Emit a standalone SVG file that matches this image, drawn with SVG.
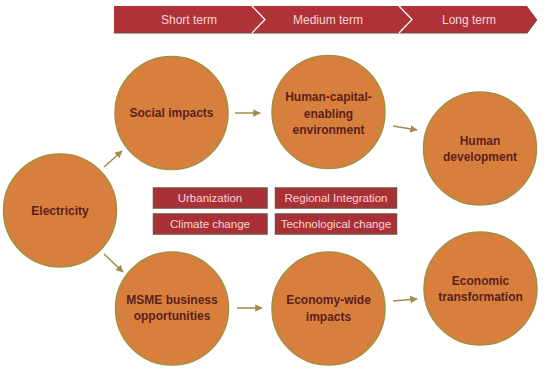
<svg xmlns="http://www.w3.org/2000/svg" width="550" height="370" viewBox="0 0 550 370">
<style>
.node circle{fill:#D97F3E;stroke:#A0903F;stroke-width:1.5}
.node text{font-family:"Liberation Sans",Arial,sans-serif;font-weight:bold;font-size:12px;fill:#5A1F1C;text-anchor:middle}
.box rect{fill:#AA3038;stroke:#7A4A3A;stroke-width:1.5}
.box text{font-family:"Liberation Sans",Arial,sans-serif;font-size:11.5px;fill:#F8D6D4;text-anchor:middle}
.band text{font-family:"Liberation Sans",Arial,sans-serif;font-size:12px;fill:#F8D6D4;text-anchor:middle}
.conn line{stroke:#A38B4B;stroke-width:1.5;marker-end:url(#ah)}
</style>
<defs>
<marker id="ah" viewBox="0 0 10 10" refX="9" refY="5" markerWidth="5" markerHeight="5" orient="auto" markerUnits="strokeWidth">
<path d="M0,0 L10,5 L0,10 z" fill="#A38B4B"/>
</marker>
</defs>
<rect width="550" height="370" fill="#FFFFFF"/>
<g id="timeline" class="band">
<polygon points="114,6 527,6 537,19.5 527,33 114,33" fill="#AE3238"/>
<polyline points="114,33 527,33 537,19.5" fill="none" stroke="#6E4A3A" stroke-width="1.2"/>
<polyline points="252,6 265,19.5 252,33" fill="none" stroke="#FFFFFF" stroke-width="1.3"/>
<polyline points="399,6 412,19.5 399,33" fill="none" stroke="#FFFFFF" stroke-width="1.3"/>
<text x="189" y="24">Short term</text>
<text x="328" y="24">Medium term</text>
<text x="469" y="24">Long term</text>
</g>
<g id="connectors" class="conn">
<line x1="104" y1="167" x2="122" y2="151"/>
<line x1="104" y1="254" x2="123" y2="272"/>
<line x1="235" y1="113" x2="260" y2="113"/>
<line x1="393" y1="126" x2="417" y2="130"/>
<line x1="237" y1="308" x2="262" y2="308"/>
<line x1="393" y1="301" x2="417" y2="299"/>
</g>
<g id="electricity" class="node"><circle cx="60" cy="210.5" r="56.5"/><text x="60" y="215">Electricity</text></g>
<g id="social" class="node"><circle cx="171.5" cy="113" r="56.5"/><text x="171.5" y="117">Social impacts</text></g>
<g id="humancapital" class="node"><circle cx="328.5" cy="112" r="56.5"/><text x="328.5" y="101">Human-capital-</text><text x="328.5" y="117.5">enabling</text><text x="328.5" y="134">environment</text></g>
<g id="humandev" class="node"><circle cx="480" cy="148.5" r="56.5"/><text x="480" y="145">Human</text><text x="480" y="161">development</text></g>
<g id="msme" class="node"><circle cx="172" cy="308.5" r="56.5"/><text x="172" y="304">MSME business</text><text x="172" y="320">opportunities</text></g>
<g id="economywide" class="node"><circle cx="328.5" cy="308.5" r="56.5"/><text x="328.5" y="304">Economy-wide</text><text x="328.5" y="320.5">impacts</text></g>
<g id="economictransformation" class="node"><circle cx="480.5" cy="288.5" r="56.5"/><text x="480.5" y="285">Economic</text><text x="480.5" y="301">transformation</text></g>
<g id="urbanization" class="box"><rect x="153.5" y="188" width="113.5" height="20"/><text x="210" y="202">Urbanization</text></g>
<g id="regional" class="box"><rect x="275.5" y="188" width="121" height="20"/><text x="336" y="202">Regional Integration</text></g>
<g id="climate" class="box"><rect x="153.5" y="214" width="113.5" height="20"/><text x="210" y="228">Climate change</text></g>
<g id="technological" class="box"><rect x="275.5" y="214" width="121" height="20"/><text x="336" y="228">Technological change</text></g>
</svg>
